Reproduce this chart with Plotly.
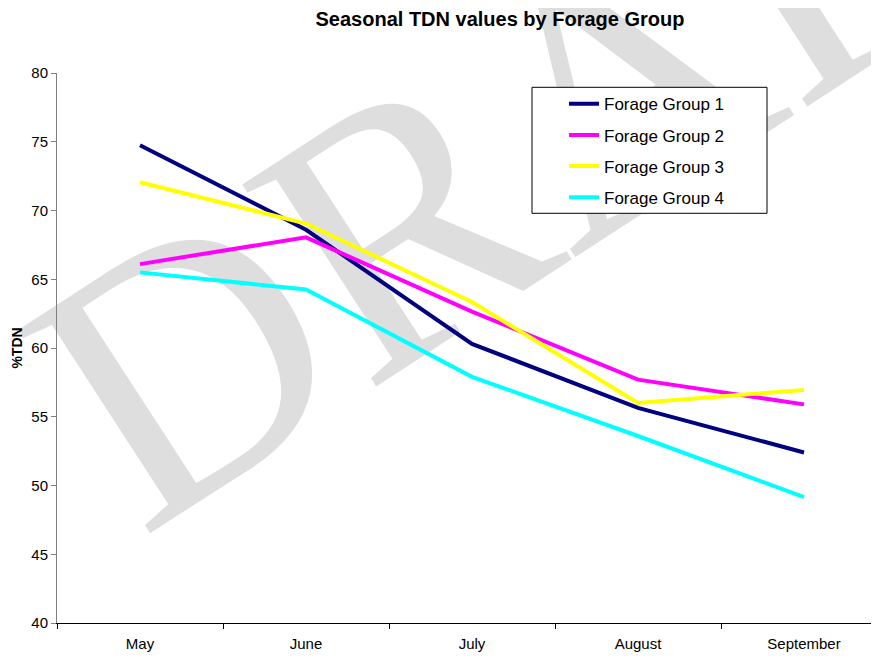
import plotly.graph_objects as go

months = ["May", "June", "July", "August", "September"]
series_names = ["Forage Group 1", "Forage Group 2", "Forage Group 3", "Forage Group 4"]
group1 = [74.75, 68.6, 60.3, 55.65, 52.4]
group2 = [66.1, 68.05, 62.65, 57.7, 55.9]
group3 = [72.05, 69.05, 63.35, 56.0, 56.95]
group4 = [65.5, 64.25, 57.9, 53.6, 49.15]
colors = ["#000080", "#FF00FF", "#FFFF00", "#00FFFF"]

FONT = "Liberation Sans, Arial, sans-serif"

# the page body has an 8px margin, so the figure is drawn 8px lower/right
OFF = 8
W, H = 879 - OFF, 658 - OFF
PLOT_L, PLOT_T, PLOT_B = 57, 72.7, 622.7        # page pixels
ML = PLOT_L - OFF
MT = PLOT_T - OFF
MB = H - (PLOT_B - OFF)
MR = 0
PW, PH = W - ML - MR, H - MT - MB


def px_to_paper(x, y):
    """page pixel -> paper coords"""
    return (x - OFF - ML) / PW, (PLOT_B - y) / PH


fig = go.Figure()
for i, (name, vals) in enumerate(zip(series_names, [group1, group2, group3, group4])):
    fig.add_trace(go.Scatter(
        x=months, y=vals, mode="lines", name=name,
        line=dict(color=colors[i], width=4),
        legendgroup=f"g{i}",
    ))

# DRAFT watermark (behind the data)
wx, wy = px_to_paper(560, 70)
# legend box
lx0, ly0 = px_to_paper(532, 213)
lx1, ly1 = px_to_paper(767, 87)

fig.update_layout(
    width=W, height=H,
    margin=dict(l=ML, r=MR, t=MT, b=MB, pad=0),
    paper_bgcolor="white",
    plot_bgcolor="rgba(0,0,0,0)",
    font=dict(family=FONT, size=14, color="black"),
    title=dict(
        text="<b>Seasonal TDN values by Forage Group</b>",
        x=px_to_paper(500, 0)[0], xref="paper", xanchor="center",
        y=1 - (19 - OFF) / H, yref="container", yanchor="middle",
        font=dict(family=FONT, size=20, color="black"),
    ),
    showlegend=True,
    legend=dict(
        x=px_to_paper(564, 0)[0], xanchor="left",
        y=px_to_paper(0, 86)[1], yanchor="top",
        bgcolor="rgba(0,0,0,0)", borderwidth=0,
        font=dict(family=FONT, size=17, color="black"),
        tracegroupgap=6,
        itemwidth=30,
    ),
    xaxis=dict(
        type="category",
        categoryorder="array", categoryarray=months,
        range=[-0.5, -0.5 + PW / 166.0],
        showline=True, linecolor="black", linewidth=1,
        ticks="outside", tickson="boundaries", ticklen=5, tickcolor="black",
        showgrid=False, zeroline=False,
        ticklabelstandoff=7,
        tickfont=dict(family=FONT, size=15, color="black"),
    ),
    yaxis=dict(
        range=[40, 80], dtick=5, tick0=40,
        showline=True, linecolor="#808080", linewidth=1,
        ticks="outside", ticklen=5, tickcolor="#808080",
        showgrid=False, zeroline=False,
        tickfont=dict(family=FONT, size=15, color="black"),
        title=dict(text="<b>%TDN</b>", font=dict(family=FONT, size=14, color="black"), standoff=5),
    ),
    shapes=[
        dict(
            type="rect", xref="paper", yref="paper",
            x0=wx - 0.01, x1=wx + 0.01, y0=wy - 0.01, y1=wy + 0.01,
            line=dict(width=0), fillcolor="rgba(0,0,0,0)", layer="below",
            label=dict(
                text="DRAFT", textangle=-33, textposition="middle center",
                font=dict(family="Liberation Serif, Times New Roman, serif", size=370, color="#dedede"),
            ),
        ),
        dict(
            type="rect", xref="paper", yref="paper",
            x0=lx0, x1=lx1, y0=ly0, y1=ly1,
            line=dict(color="black", width=1), fillcolor="white", layer="below",
        ),
    ],
)

fig.write_html("out.html")
